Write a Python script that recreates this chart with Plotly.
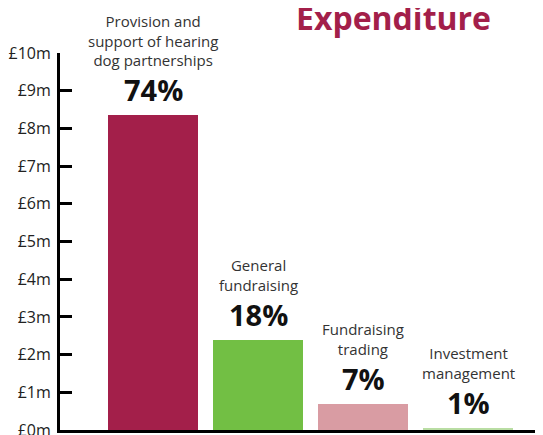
import plotly.graph_objects as go

categories = ["Provision and<br>support of hearing<br>dog partnerships",
              "General<br>fundraising",
              "Fundraising<br>trading",
              "Investment<br>management"]
values_m = [8.36, 2.39, 0.69, 0.04]
percent_labels = ["74%", "18%", "7%", "1%"]
bar_colors = ["#A31F4A", "#72BF44", "#D99CA3", "#B9DDA3"]
tick_vals = [0, 1, 2, 3, 4, 5, 6, 7, 8, 9, 10]
tick_text = ["£%dm" % v for v in tick_vals]

xs = list(range(len(categories)))

# page body has an 8px default margin; figure is sized/placed to compensate
W, H = 535, 427
L, R, T, B = 52, 0, 45, 5
plot_w = W - L - R
plot_h = H - T - B
pitch = 105.0
bar1_center = 153 - 8 - L  # px from plot left

fig = go.Figure()
fig.add_trace(go.Bar(x=xs, y=values_m, marker=dict(color=bar_colors, line=dict(width=0)),
                     width=90 / pitch, hoverinfo="skip"))

for i, (cat, val, pct) in enumerate(zip(categories, values_m, percent_labels)):
    fig.add_annotation(x=i, y=val, text="<b>%s</b>" % pct, showarrow=False,
                       yanchor="bottom", yshift=4,
                       font=dict(family="Open Sans", size=29, color="#111111"))
    fig.add_annotation(x=i, y=val, text=cat, showarrow=False,
                       yanchor="bottom", yshift=43,
                       font=dict(family="Open Sans", size=15, color="#333333"))

fig.add_annotation(xref="paper", yref="paper",
                   x=(393 - 8 - L) / plot_w, y=(plot_h + T - (18 - 8)) / plot_h,
                   text="<b>Expenditure</b>", showarrow=False, xanchor="center", yanchor="middle",
                   font=dict(family="Open Sans", size=32, color="#A31F4A"))

fig.update_layout(
    width=W, height=H,
    margin=dict(l=L, r=R, t=T, b=B, autoexpand=False),
    plot_bgcolor="white", paper_bgcolor="white",
    showlegend=False,
    bargap=0,
)
x0 = -bar1_center / pitch
fig.update_xaxes(range=[x0, x0 + plot_w / pitch], showticklabels=False, ticks="",
                 showgrid=False, zeroline=False, showline=True, linecolor="black", linewidth=3,
                 automargin=False)
fig.update_yaxes(range=[0, 10], tickvals=tick_vals, ticktext=tick_text, ticks="inside",
                 ticklen=12, tickwidth=2.5, tickcolor="black", showgrid=False, zeroline=False,
                 showline=True, linecolor="black", linewidth=3, ticklabelstandoff=3,
                 automargin=False, ticklabeloverflow="allow",
                 tickfont=dict(family="Open Sans", size=16, color="#222222"))

fig.write_html("out.html")
